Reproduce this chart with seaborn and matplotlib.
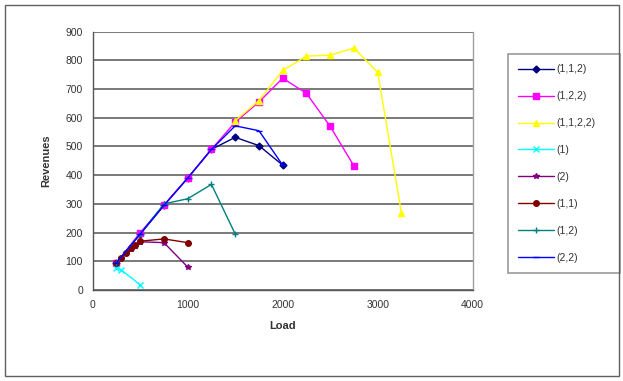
import matplotlib
matplotlib.use("Agg")
import matplotlib.pyplot as plt
import seaborn as sns
import pandas as pd
from matplotlib.patches import Rectangle

series_names = ["(1,1,2)", "(1,2,2)", "(1,1,2,2)", "(1)", "(2)", "(1,1)", "(1,2)", "(2,2)"]

load_112 = [250, 500, 750, 1000, 1250, 1500, 1750, 2000]
rev_112 = [95, 195, 295, 390, 490, 532, 503, 435]

load_122 = [250, 500, 750, 1000, 1250, 1500, 1750, 2000, 2250, 2500, 2750]
rev_122 = [95, 200, 295, 390, 490, 585, 655, 738, 685, 570, 432]

load_1122 = [1500, 1750, 2000, 2250, 2500, 2750, 3000, 3250]
rev_1122 = [590, 660, 765, 815, 818, 843, 758, 268]

load_1 = [250, 300, 500]
rev_1 = [75, 70, 18]

load_2 = [250, 300, 350, 400, 450, 500, 750, 1000]
rev_2 = [95, 110, 128, 142, 155, 168, 165, 80]

load_11 = [250, 300, 350, 400, 450, 500, 750, 1000]
rev_11 = [95, 112, 128, 145, 158, 170, 178, 165]

load_12 = [250, 500, 750, 1000, 1250, 1500]
rev_12 = [95, 195, 300, 318, 368, 195]

load_22 = [250, 500, 750, 1000, 1250, 1500, 1750, 2000]
rev_22 = [95, 195, 295, 390, 490, 572, 555, 435]

loads = [load_112, load_122, load_1122, load_1, load_2, load_11, load_12, load_22]
revs = [rev_112, rev_122, rev_1122, rev_1, rev_2, rev_11, rev_12, rev_22]

colors = ["#000080", "#FF00FF", "#FFFF00", "#00FFFF", "#800080", "#800000", "#008080", "#0000FF"]
markers = ["D", "s", "^", "x", "*", "o", "+", "_"]
msizes = [3.5, 4.5, 5, 4, 4, 4, 4, 4]

sns.set_theme(style="white")
plt.rcParams["font.family"] = ["Liberation Sans", "DejaVu Sans"]

fig = plt.figure(figsize=(6.23, 3.81), dpi=100)
ax = fig.add_axes([92.7 / 623, 1 - 290 / 381, 380 / 623, (290 - 31.7) / 381])

for i, name in enumerate(series_names):
    df = pd.DataFrame({"Load": loads[i], "Revenues": revs[i]})
    sns.lineplot(data=df, x="Load", y="Revenues", ax=ax, color=colors[i],
                 marker=markers[i], markersize=msizes[i], markeredgecolor=colors[i],
                 markeredgewidth=1, linewidth=1.0, label=name, sort=False,
                 estimator=None, zorder=3 + i)

ax.set_xlim(0, 4000)
ax.set_ylim(0, 900)
ax.set_xticks([0, 1000, 2000, 3000, 4000])
ax.set_yticks(range(0, 901, 100))
ax.yaxis.grid(True, color="#6e6e6e", linewidth=1.3)
ax.set_axisbelow(True)
ax.spines["top"].set_visible(False)
ax.spines["right"].set_color("#a0a0a0")
ax.spines["right"].set_linewidth(1.0)
ax.spines["left"].set_color("#555555")
ax.spines["bottom"].set_color("#555555")
ax.spines["left"].set_linewidth(1.0)
ax.spines["bottom"].set_linewidth(1.0)
ax.tick_params(axis="both", which="major", direction="inout", length=6, width=1,
               color="#555555", labelsize=7.5, labelcolor="#333333", pad=4)
ax.set_xlabel("Load", fontsize=8, fontweight="bold", color="#333333", labelpad=8)
ax.set_ylabel("Revenues", fontsize=8, fontweight="bold", color="#333333", labelpad=10)

leg = ax.legend(loc="upper left", bbox_to_anchor=(508 / 623, 1 - 271 / 381, 112 / 623, 217 / 381),
                bbox_transform=fig.transFigure, mode="expand", fontsize=7.5,
                handlelength=3.4, handletextpad=0.2, borderpad=1.0, labelspacing=1.62,
                frameon=True, fancybox=False, edgecolor="#808080", borderaxespad=0)
leg.get_frame().set_linewidth(1.2)
for t in leg.get_texts():
    t.set_color("#333333")

fig.patches.append(Rectangle((5 / 623, 5 / 381), 614 / 623, 371 / 381, transform=fig.transFigure,
                             fill=False, edgecolor="#606060", linewidth=1.0))

fig.savefig("out.png", dpi=100)
